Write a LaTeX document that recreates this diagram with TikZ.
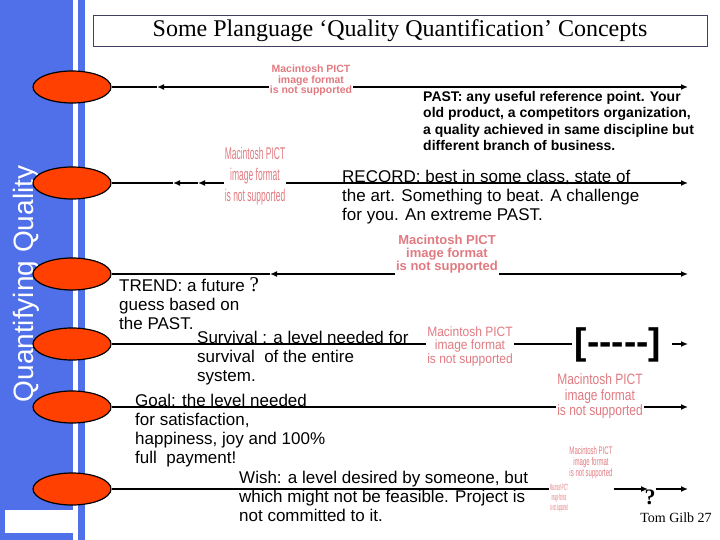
\documentclass[tikz,border=0pt]{standalone}
\usepackage{fontspec}
\setmainfont{Liberation Sans}
\newfontfamily\timesfont{Liberation Serif}
\usetikzlibrary{arrows.meta,positioning,calc,shapes.geometric}
\definecolor{BarBlue}{HTML}{4F70E8}
\definecolor{LevelRed}{HTML}{FF4000}
\definecolor{PictPink}{HTML}{E07A80}
\definecolor{TitleLine}{HTML}{404060}
\newcommand{\pictbox}[3]{\scalebox{#1}[1]{\fontsize{#2}{#3}\selectfont\begin{tabular}{@{}c@{}}Macintosh PICT\\image format\\is not supported\end{tabular}}}
\tikzset{
  row/.style={line width=2pt, draw=black},
  rowtip/.style={row, -{Latex[length=7pt,width=6pt]}},
  level/.style={ellipse, draw=black, line width=1.2pt, fill=LevelRed,
                minimum width=78pt, minimum height=32pt, inner sep=0pt},
  concept/.style={anchor=north west, inner sep=0pt, align=left,
                  font=\fontsize{17}{19}\selectfont},
  pict/.style={text=PictPink, align=center, inner sep=1pt},
}
\begin{document}
\begin{tikzpicture}[x=1pt,y=-1pt]
    \useasboundingbox (0,0) rectangle (720,540);
    \fill[BarBlue] (0,0) rectangle (85,540);
    \fill[white] (73,0) rectangle (78,540);
    \fill[white] (5,510) rectangle (73,533);
    \node[rotate=90, anchor=base, text=white, font=\fontsize{28}{30}\selectfont] (side) at (33,284) {Quantifying Quality};
    \node[draw=TitleLine, line width=0.8pt, minimum width=614pt, minimum height=31pt, inner sep=0pt,
          font=\timesfont\fontsize{24}{26}\selectfont] (title) at (400,30.5) {Some Planguage ‘Quality Quantification’ Concepts};
    \node[level] (e1) at (72,87) {};
    \node[level] (e2) at (72,183) {};
    \node[level] (e3) at (72,274) {};
    \node[level] (e4) at (72,344) {};
    \node[level] (e5) at (72,407) {};
    \node[level] (e6) at (72,489) {};
    \node[pict, font=\bfseries] (p1) at (311,81) {\pictbox{1}{10.5}{10}};
    \node[pict] (p2) at (255,176) {\pictbox{0.5}{17}{21}};
    \node[pict, font=\bfseries] (p3) at (447,255) {\pictbox{1}{13}{12}};
    \node[pict] (p4) at (470,347) {\pictbox{0.89}{13.5}{13.5}};
    \node[pict] (p5) at (600,397) {\pictbox{0.8}{15}{15}};
    \node[pict] (p6) at (591,463) {\pictbox{0.55}{11}{10.5}};
    \node[pict] (p7) at (559,498) {\pictbox{0.28}{9}{10}};
    \node[inner sep=3pt, font=\bfseries\fontsize{37}{40}\selectfont] (bk) at (618,345) {[-{}-{}-{}-{}-]};
    \node[inner sep=0pt, font=\timesfont\bfseries\fontsize{22}{24}\selectfont] (q6) at (650,497) {?};
    \node[inner sep=0pt, font=\timesfont\fontsize{14}{16}\selectfont] (sign) at (676,518) {Tom Gilb 27};
    \node[concept, font=\bfseries\fontsize{14}{16.5}\selectfont] (past) at (423,91) {PAST: any useful reference point. Your\\old product, a competitors organization,\\a quality achieved in same discipline but\\different branch of business.};
    \node[concept] (record) at (342,170) {RECORD: best in some class, state of\\the art. Something to beat. A challenge\\for you.  An extreme PAST.};
    \node[concept] (trend) at (119,277) {TREND: a future {\timesfont\fontsize{21}{19}\selectfont ?}\\guess based on\\the PAST.};
    \node[concept] (survival) at (197,331) {Survival : a level needed for\\survival \ of the entire\\system.};
    \node[concept] (goal) at (135,394) {Goal: the level needed\\for satisfaction,\\happiness, joy and 100\%\\full \ payment!};
    \node[concept] (wish) at (239,471) {Wish: a level desired by someone, but\\which might not be feasible. Project is\\not committed to it.};
    \coordinate (r1) at (688,87);
    \coordinate (r2) at (688,183);
    \coordinate (r3) at (688,274);
    \coordinate (r4) at (688,344);
    \coordinate (r5) at (688,407);
    \coordinate (r6) at (688,489);
    \coordinate (a1) at (157,87);
    \coordinate (a2) at (198,183);
    \coordinate (b2) at (173,183);
    \coordinate (a3) at (270,274);
    \coordinate (a4) at (672,344);
    \coordinate (m6) at (648,489);
    \draw[rowtip] (p1.west |- e1.east) -- (a1);
    \draw[row] (a1) -- (e1.east);
    \draw[rowtip] (p1.east |- e1.east) -- (r1);
    \draw[rowtip] (p2.west |- e2.east) -- (a2);
    \draw[rowtip] (a2) -- (b2);
    \draw[row] (b2) -- (e2.east);
    \draw[rowtip] (p2.east |- e2.east) -- (r2);
    \draw[rowtip] (p3.west |- e3.east) -- (a3);
    \draw[row] (a3) -- (e3.east);
    \draw[rowtip] (p3.east |- e3.east) -- (r3);
    \draw[row] (e4.east) -- (p4.west |- e4.east);
    \draw[row] (p4.east |- e4.east) -- (bk.west |- e4.east);
    \draw[rowtip] (a4) -- (r4);
    \draw[row] (e5.east) -- (p5.west |- e5.east);
    \draw[rowtip] (p5.east |- e5.east) -- (r5);
    \draw[row] (e6.east) -- (p7.west |- e6.east);
    \draw[rowtip] (p6.east |- e6.east) -- (m6);
    \draw[rowtip] (q6.east |- e6.east) -- (r6);
\end{tikzpicture}
\end{document}
